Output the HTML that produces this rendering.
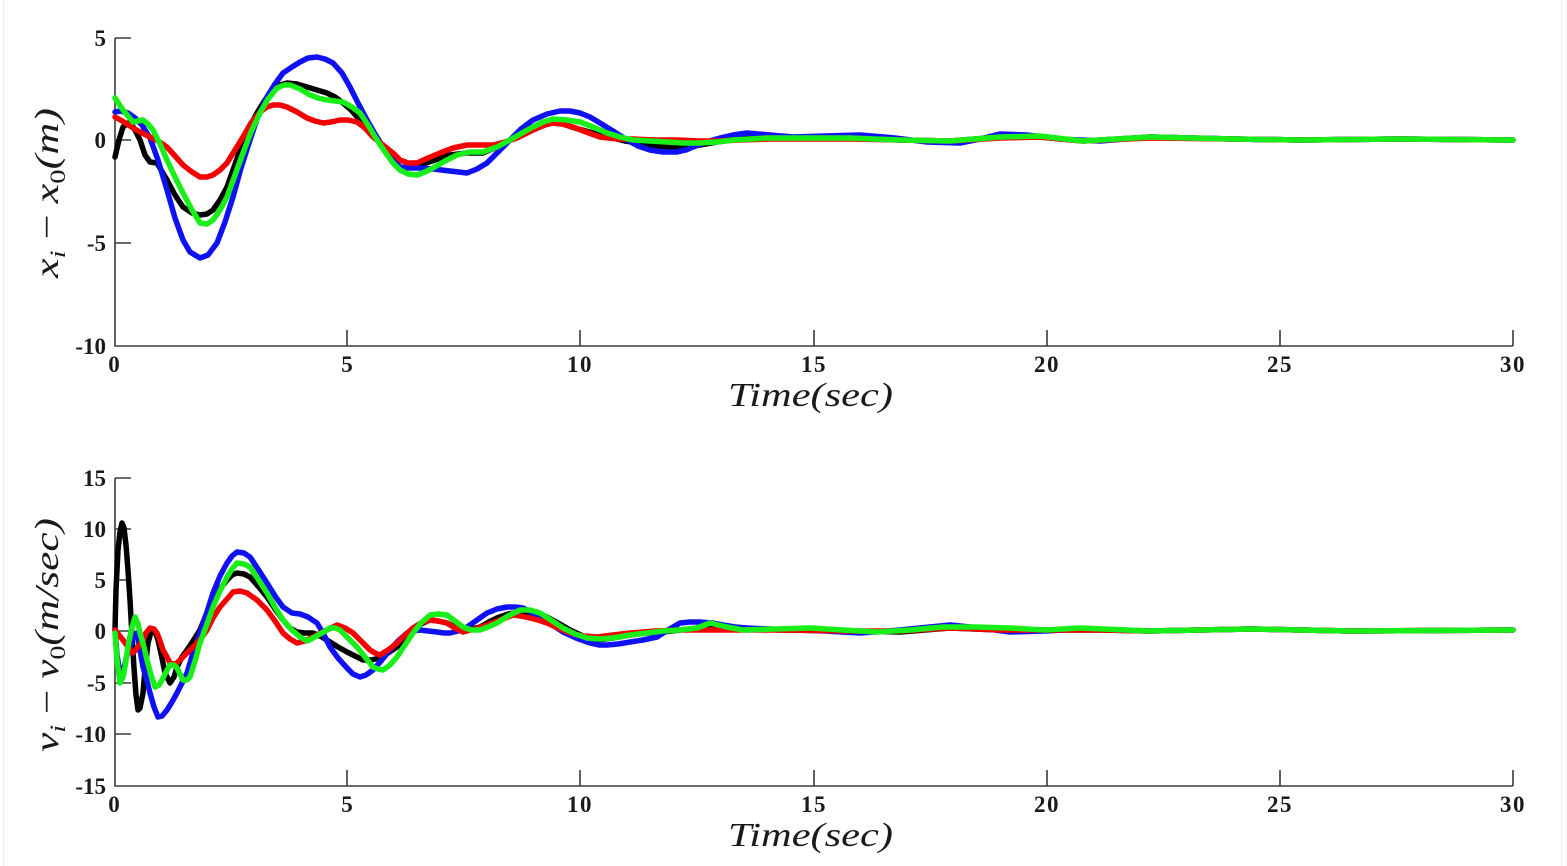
<!DOCTYPE html>
<html>
<head>
<meta charset="utf-8">
<style>
html,body{margin:0;padding:0;background:#fff;}
svg{display:block;}
.tk{font-family:"Liberation Serif",serif;font-size:23px;font-weight:bold;fill:#1a1a1a;}
.lab{font-family:"Liberation Serif",serif;font-style:italic;font-size:34px;fill:#1a1a1a;}
.ax{stroke:#3a3a3a;stroke-width:1.6;fill:none;}
.s{fill:none;stroke-width:5.5;stroke-linejoin:round;stroke-linecap:round;}
</style>
</head>
<body>
<svg width="1567" height="866" viewBox="0 0 1567 866" xmlns="http://www.w3.org/2000/svg">
<rect x="0" y="0" width="1567" height="866" fill="#fff"/>
<line x1="3.5" y1="0" x2="3.5" y2="866" stroke="#ececec" stroke-width="1"/>
<line x1="1561.5" y1="0" x2="1561.5" y2="866" stroke="#f0f0f0" stroke-width="1"/>

<!-- ===== TOP PLOT ===== -->
<g class="ax">
<path d="M115,38 V346 H1513"/>
<path d="M115,38 H131 M115,140 H131 M115,243 H131"/>
<path d="M347,346 V330 M580,346 V330 M814,346 V330 M1047,346 V330 M1280,346 V330 M1513,346 V330"/>
</g>
<g class="tk">
<text x="106" y="46" text-anchor="end">5</text>
<text x="106" y="148" text-anchor="end">0</text>
<text x="106" y="251" text-anchor="end">-5</text>
<text x="106" y="354" text-anchor="end">-10</text>
<text x="114" y="372" text-anchor="middle">0</text>
<text x="347" y="372" text-anchor="middle">5</text>
<text x="580" y="372" text-anchor="middle" letter-spacing="1.5">10</text>
<text x="814" y="372" text-anchor="middle" letter-spacing="1.5">15</text>
<text x="1047" y="372" text-anchor="middle" letter-spacing="1.5">20</text>
<text x="1280" y="372" text-anchor="middle" letter-spacing="1.5">25</text>
<text x="1513" y="372" text-anchor="middle" letter-spacing="1.5">30</text>
</g>
<text class="lab" x="728" y="406" textLength="165" lengthAdjust="spacingAndGlyphs">Time(sec)</text>
<text class="lab" transform="translate(58,278) rotate(-90)" textLength="170" lengthAdjust="spacingAndGlyphs">x<tspan font-size="22" dy="7">i</tspan><tspan dy="-7" font-style="normal"> − </tspan>x<tspan font-size="22" dy="7" font-style="normal">0</tspan><tspan dy="-7">(m)</tspan></text>

<!-- black top -->
<polyline class="s" stroke="#000" points="115,157 119,140 123,127 130,122 135,130 140,140 145,155 150,162 157,163 167,180 175,195 183,207 192,213 200,215 207,214 213,210 220,200 227,187 233,170 240,150 248,130 257,113 265,100 273,90 280,85 287,83 297,84 307,87 317,90 327,93 335,97 343,103 352,111 360,120 368,130 377,140 385,150 393,160 400,168 410,167 420,165 435,160 450,155 467,153 483,153 497,147 510,140 523,132 540,126 557,122 575,128 600,135 625,141 650,145 667,147 683,147 700,145 717,142 740,139 770,137 800,138 850,138 900,140 950,141 1000,137 1040,137 1083,141 1150,137 1233,139 1300,140 1400,139 1513,140"/>
<!-- blue top -->
<polyline class="s" stroke="#1010f5" points="115,112 120,111 128,113 135,118 142,125 150,138 158,160 167,190 175,218 183,240 190,252 200,258 208,255 217,243 225,222 233,197 241,168 250,140 258,116 267,97 275,84 283,73 292,67 300,62 308,58 317,57 325,59 333,63 342,73 350,87 358,103 367,120 375,134 383,147 392,158 400,167 410,168 420,168 433,169 450,171 467,173 477,169 487,163 498,152 510,140 521,129 533,120 547,114 560,111 570,111 580,113 590,117 600,123 613,131 627,140 638,146 650,150 663,152 677,152 686,150 693,147 706,142 720,138 733,135 747,133 770,135 793,137 825,136 860,135 895,138 927,142 960,143 980,139 1000,134 1027,135 1060,139 1100,141 1150,137 1233,139 1300,140 1400,139 1513,140"/>
<!-- red top -->
<polyline class="s" stroke="#f50000" points="115,117 124,122 133,128 142,133 150,137 158,141 167,147 175,156 183,165 192,172 200,177 207,177 213,175 220,170 227,163 235,150 243,137 251,123 260,112 267,107 273,105 280,105 287,107 297,112 307,118 315,121 323,123 331,122 340,120 348,120 357,122 365,128 373,137 383,145 393,153 400,160 408,163 417,163 428,158 440,153 453,148 467,145 480,145 493,145 505,142 517,138 533,130 550,123 562,124 573,127 586,132 600,137 617,139 633,139 655,140 677,140 700,141 717,141 740,140 770,139 800,139 850,139 900,140 950,141 1000,138 1040,137 1083,141 1150,138 1233,139 1300,140 1400,139 1513,140"/>
<!-- green top -->
<polyline class="s" stroke="#18ef18" points="115,98 119,104 123,110 128,116 133,122 138,121 143,120 148,124 153,130 160,144 167,160 175,177 183,193 192,210 200,223 207,224 213,220 220,210 227,197 235,175 243,153 251,132 260,113 268,99 277,88 284,85 290,85 300,89 310,95 318,98 327,100 335,101 343,102 352,107 360,113 368,125 377,140 385,152 393,163 400,170 408,174 417,175 425,172 433,168 445,161 457,155 470,152 483,152 497,147 510,140 522,133 533,127 543,122 553,119 567,120 580,122 593,127 607,133 620,137 633,140 650,141 667,142 683,143 700,143 717,142 733,140 750,139 767,138 800,138 850,138 900,140 950,141 1000,137 1040,136 1083,141 1150,137 1233,139 1300,140 1400,139 1513,140"/>

<!-- ===== BOTTOM PLOT ===== -->
<g class="ax">
<path d="M115,478 V786 H1513"/>
<path d="M115,478 H131 M115,529 H131 M115,580 H131 M115,631 H131 M115,683 H131 M115,734 H131"/>
<path d="M347,786 V770 M580,786 V770 M814,786 V770 M1047,786 V770 M1280,786 V770 M1513,786 V770"/>
</g>
<g class="tk">
<text x="106" y="486" text-anchor="end">15</text>
<text x="106" y="537" text-anchor="end">10</text>
<text x="106" y="588" text-anchor="end">5</text>
<text x="106" y="639" text-anchor="end">0</text>
<text x="106" y="691" text-anchor="end">-5</text>
<text x="106" y="742" text-anchor="end">-10</text>
<text x="106" y="794" text-anchor="end">-15</text>
<text x="114" y="812" text-anchor="middle">0</text>
<text x="347" y="812" text-anchor="middle">5</text>
<text x="580" y="812" text-anchor="middle" letter-spacing="1.5">10</text>
<text x="814" y="812" text-anchor="middle" letter-spacing="1.5">15</text>
<text x="1047" y="812" text-anchor="middle" letter-spacing="1.5">20</text>
<text x="1280" y="812" text-anchor="middle" letter-spacing="1.5">25</text>
<text x="1513" y="812" text-anchor="middle" letter-spacing="1.5">30</text>
</g>
<text class="lab" x="728" y="846" textLength="165" lengthAdjust="spacingAndGlyphs">Time(sec)</text>
<text class="lab" transform="translate(58,752) rotate(-90)" textLength="234" lengthAdjust="spacingAndGlyphs">v<tspan font-size="22" dy="7">i</tspan><tspan dy="-7" font-style="normal"> − </tspan>v<tspan font-size="22" dy="7" font-style="normal">0</tspan><tspan dy="-7">(m/sec)</tspan></text>

<!-- black bottom -->
<polyline class="s" stroke="#000" points="115,630 116,590 118,550 120,532 122,523 124,528 126,545 128,570 130,600 132,635 134,668 136,695 138,710 140,708 143,693 145,670 148,643 151,632 153,630 156,634 158,640 162,658 165,673 170,683 174,677 177,667 182,657 187,650 193,641 200,630 206,615 213,600 220,589 227,580 232,575 237,573 244,574 250,577 258,586 267,597 275,609 283,620 290,628 297,632 305,633 313,633 322,637 330,642 338,647 347,652 355,656 363,660 371,660 380,658 388,653 397,647 405,638 413,630 421,624 430,620 438,621 447,623 455,627 463,630 471,629 480,627 489,622 497,618 508,614 520,612 533,614 547,617 558,623 570,630 583,636 597,640 613,638 630,635 647,633 663,632 680,630 697,628 714,628 730,628 755,629 780,630 810,630 850,631 900,632 950,628 1000,630 1050,630 1100,630 1150,631 1250,629 1350,631 1513,630"/>
<!-- blue bottom -->
<polyline class="s" stroke="#1010f5" points="115,630 117,655 120,673 124,668 127,655 130,647 133,638 137,633 140,650 143,667 147,681 150,693 154,707 158,717 162,716 167,710 172,702 177,693 182,683 187,673 193,653 200,633 207,612 213,593 220,576 227,563 232,556 237,552 244,553 250,557 258,569 267,583 275,596 283,607 292,613 300,614 308,617 317,623 323,633 330,647 338,658 347,668 353,674 360,677 366,675 373,670 381,661 390,650 398,641 407,633 413,631 420,630 428,631 437,632 444,633 450,633 458,631 467,627 477,620 487,613 497,609 507,607 515,607 523,608 531,612 540,617 551,624 563,632 576,638 590,643 599,645 607,645 618,644 630,642 643,640 657,637 668,630 680,623 690,622 700,622 712,623 723,625 735,627 747,628 770,629 793,630 825,631 860,633 900,630 950,625 980,628 1010,632 1045,631 1080,629 1150,631 1250,629 1350,631 1513,630"/>
<!-- red bottom -->
<polyline class="s" stroke="#f50000" points="115,630 119,635 123,640 128,647 133,653 138,647 143,640 146,633 150,628 154,629 157,633 160,641 163,650 167,657 170,663 174,664 177,663 182,658 187,653 192,648 197,643 202,637 207,630 213,618 220,607 227,599 233,592 240,591 247,593 257,600 267,610 275,621 283,633 290,639 297,643 305,641 313,637 325,631 337,625 345,628 353,633 362,642 370,650 375,653 380,655 388,650 397,643 405,635 413,628 421,623 430,620 438,621 447,623 455,628 463,632 475,629 487,625 500,620 513,615 521,616 530,618 538,620 547,623 558,628 570,633 583,636 597,637 613,635 630,633 655,631 680,630 720,630 780,630 850,631 900,631 950,628 1000,630 1050,630 1100,630 1150,631 1250,629 1350,631 1513,630"/>
<!-- green bottom -->
<polyline class="s" stroke="#18ef18" points="115,633 117,660 120,683 123,677 125,667 128,646 132,627 135,617 138,624 140,633 144,647 147,660 151,675 155,687 159,685 162,680 166,672 170,665 174,665 177,668 180,674 183,680 187,680 190,677 195,661 200,643 207,624 213,607 220,591 227,577 232,569 237,563 244,564 250,567 258,579 267,593 275,607 283,620 292,630 300,637 307,641 313,638 322,633 330,628 335,628 340,630 348,638 357,647 365,657 373,667 378,669 383,670 390,665 397,657 405,645 413,633 421,623 430,615 438,614 447,615 455,621 463,627 471,630 480,630 488,627 497,623 508,616 520,610 530,610 540,613 551,620 563,628 575,634 587,638 600,639 613,638 630,635 647,633 663,631 680,630 697,628 710,623 727,627 743,630 775,629 810,628 843,630 877,632 910,630 943,627 975,627 1010,628 1045,630 1080,628 1150,631 1250,629 1350,631 1513,630"/>
</svg>
</body>
</html>
